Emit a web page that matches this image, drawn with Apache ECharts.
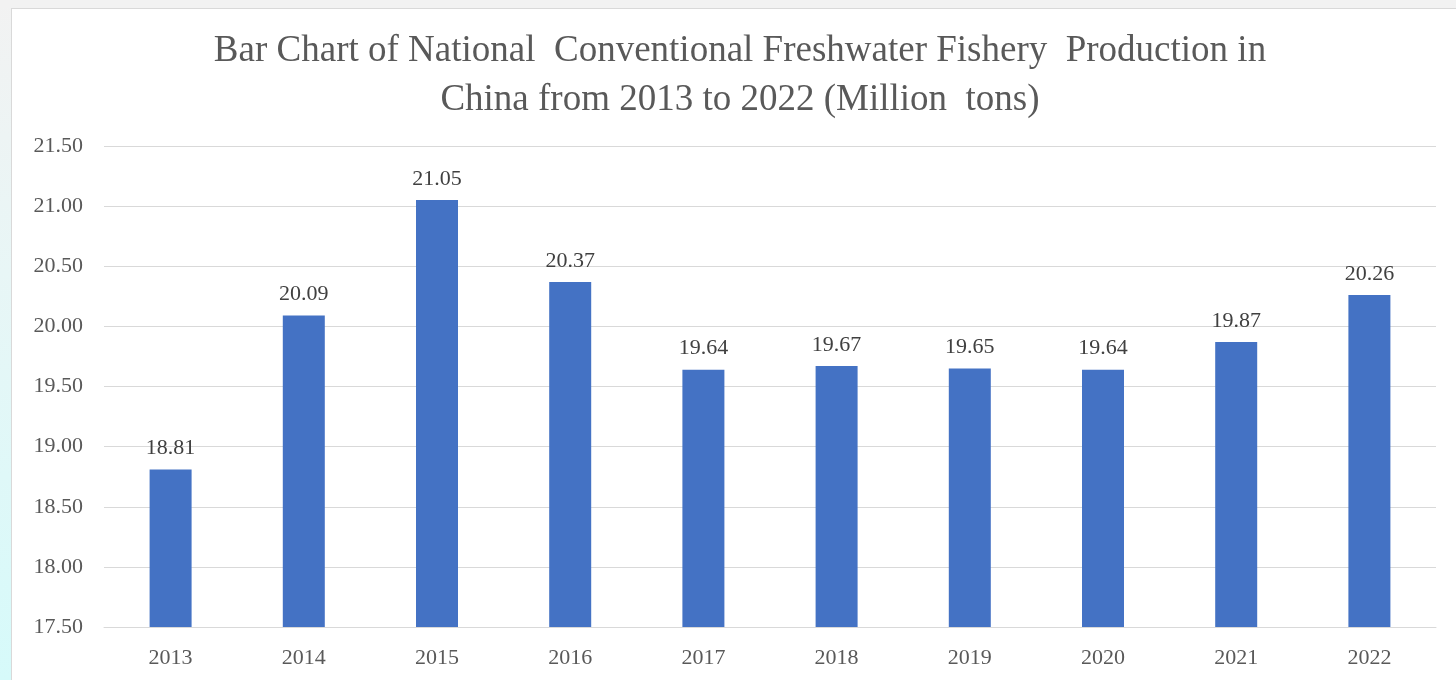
<!DOCTYPE html>
<html>
<head>
<meta charset="utf-8">
<script src="https://cdn.jsdelivr.net/npm/echarts@6/dist/echarts.min.js"></script>
<style>
  html, body { margin: 0; padding: 0; width: 1456px; height: 680px; overflow: hidden; }
  body { background: linear-gradient(to bottom, #f2f2f2 0%, #e8f6f6 40%, #d6fafa 100%); }
  .panel {
    position: absolute; left: 11px; top: 8px; width: 1456px; height: 690px;
    background: #fff; border: 1px solid #d9d9d9; box-sizing: border-box;
  }
  .topbar { position: absolute; left: 0; top: 0; width: 1456px; height: 8px; background: #f2f2f2; }
  #chart { width: 1456px; height: 680px; }
</style>
</head>
<body>
<div class="topbar"></div>
<div class="panel"><div id="chart"></div></div>
<script>
const years = ['2013', '2014', '2015', '2016', '2017', '2018', '2019', '2020', '2021', '2022']
const production = [18.81, 20.09, 21.05, 20.37, 19.64, 19.67, 19.65, 19.64, 19.87, 20.26]
const yMin = 17.5
const yMax = 21.5
const yStep = 0.5

const chart = echarts.init(document.getElementById('chart'))
chart.setOption({
  animation: false,
  title: {
    text: 'Bar Chart of National  Conventional Freshwater Fishery  Production in\nChina from 2013 to 2022 (Million  tons)',
    left: 'center',
    top: 13,
    textStyle: {
      fontFamily: 'Liberation Serif',
      fontWeight: 'normal',
      fontSize: 37,
      lineHeight: 49,
      color: '#595959'
    }
  },
  grid: { left: 92, top: 137, width: 1332, height: 481 },
  xAxis: {
    type: 'category',
    data: years,
    axisTick: { show: false },
    axisLine: { lineStyle: { color: '#d9d9d9', width: 1 } },
    axisLabel: {
      margin: 20,
      fontFamily: 'Liberation Serif',
      fontSize: 22,
      color: '#595959'
    }
  },
  yAxis: {
    type: 'value',
    min: yMin,
    max: yMax,
    interval: yStep,
    axisLine: { show: false },
    axisTick: { show: false },
    splitLine: { lineStyle: { color: '#d9d9d9', width: 1 } },
    axisLabel: {
      margin: 21,
      fontFamily: 'Liberation Serif',
      fontSize: 22,
      color: '#595959',
      formatter: v => v.toFixed(2)
    }
  },
  series: [{
    type: 'bar',
    data: production,
    barWidth: 42,
    itemStyle: { color: '#4472c4' },
    label: {
      show: true,
      position: 'top',
      distance: 10,
      fontFamily: 'Liberation Serif',
      fontSize: 22,
      color: '#404040',
      formatter: p => p.value.toFixed(2)
    }
  }]
})
</script>
</body>
</html>
